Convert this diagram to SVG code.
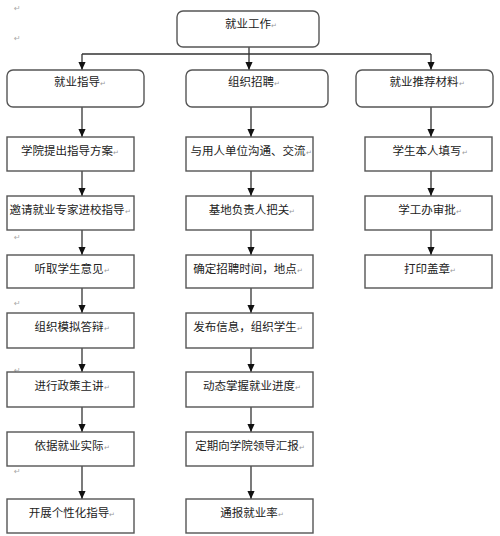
<svg xmlns="http://www.w3.org/2000/svg" width="500" height="536" viewBox="0 0 500 536">
<style>
.box{fill:#fff;stroke:#555;stroke-width:1.4}
.t{font-family:"Noto Sans CJK SC","Noto Sans CJK JP",sans-serif;font-size:11.5px;fill:#222;text-anchor:middle}
.pm{font-size:7px;fill:#999}
.stray{font-family:"DejaVu Sans",sans-serif;font-size:8px;fill:#aaa}
.c{stroke:#333;stroke-width:1.3;fill:none}
</style>
<defs>
<marker id="ah" markerUnits="userSpaceOnUse" markerWidth="8" markerHeight="9" refX="4" refY="9" orient="auto-start-reverse" viewBox="0 0 8 9">
<path d="M0,0 L8,0 L4,9 Z" fill="#111" transform="rotate(0)"/>
</marker>
<marker id="a" markerUnits="userSpaceOnUse" markerWidth="8" markerHeight="9" refX="9" refY="4" orient="auto" viewBox="0 0 9 8">
<path d="M0,0 L9,4 L0,8 Z" fill="#111"/>
</marker>
</defs>
<rect width="500" height="536" fill="#fff"/>
<g id="stray-marks">
<text class="stray" x="14" y="11">↵</text>
<text class="stray" x="14" y="41">↵</text>
<text class="stray" x="14" y="240">↵</text>
<text class="stray" x="14" y="306">↵</text>
<text class="stray" x="14" y="373">↵</text>
<text class="stray" x="14" y="474">↵</text>
</g>
<g id="connectors">
<path class="c" d="M249,47 V54 M82,54 H431"/>
<path class="c" d="M82,54 V70" marker-end="url(#a)"/>
<path class="c" d="M249,54 V70" marker-end="url(#a)"/>
<path class="c" d="M431,54 V70" marker-end="url(#a)"/>
<path class="c" d="M82,107 V137" marker-end="url(#a)"/>
<path class="c" d="M82,171 V196" marker-end="url(#a)"/>
<path class="c" d="M82,230 V255" marker-end="url(#a)"/>
<path class="c" d="M82,288 V313" marker-end="url(#a)"/>
<path class="c" d="M82,348 V372" marker-end="url(#a)"/>
<path class="c" d="M82,407 V432" marker-end="url(#a)"/>
<path class="c" d="M82,466 V499" marker-end="url(#a)"/>
<path class="c" d="M251,107 V137" marker-end="url(#a)"/>
<path class="c" d="M251,171 V196" marker-end="url(#a)"/>
<path class="c" d="M251,230 V255" marker-end="url(#a)"/>
<path class="c" d="M251,288 V313" marker-end="url(#a)"/>
<path class="c" d="M251,348 V372" marker-end="url(#a)"/>
<path class="c" d="M251,407 V432" marker-end="url(#a)"/>
<path class="c" d="M251,466 V499" marker-end="url(#a)"/>
<path class="c" d="M431,107 V137" marker-end="url(#a)"/>
<path class="c" d="M431,171 V196" marker-end="url(#a)"/>
<path class="c" d="M431,230 V255" marker-end="url(#a)"/>
</g>
<g id="n-top"><rect class="box" x="177" y="11" width="142" height="36" rx="6"/><text class="t" x="251" y="28">就业工作<tspan class="pm">↵</tspan></text></g>
<g id="n-a"><rect class="box" x="7" y="70" width="137" height="37" rx="6"/><text class="t" x="80" y="86">就业指导<tspan class="pm">↵</tspan></text></g>
<g id="n-b"><rect class="box" x="186" y="70" width="142" height="37" rx="6"/><text class="t" x="254" y="86">组织招聘<tspan class="pm">↵</tspan></text></g>
<g id="n-c"><rect class="box" x="356" y="70" width="137" height="37" rx="6"/><text class="t" x="427" y="86">就业推荐材料<tspan class="pm">↵</tspan></text></g>

<g id="a1"><rect class="box" x="7" y="137" width="127" height="34"/><text class="t" x="70" y="155">学院提出指导方案<tspan class="pm">↵</tspan></text></g>
<g id="a2"><rect class="box" x="7" y="196" width="127" height="34"/><text class="t" x="70" y="214">邀请就业专家进校指导<tspan class="pm">↵</tspan></text></g>
<g id="a3"><rect class="box" x="7" y="255" width="127" height="33"/><text class="t" x="72" y="273">听取学生意见<tspan class="pm">↵</tspan></text></g>
<g id="a4"><rect class="box" x="7" y="313" width="127" height="35"/><text class="t" x="72" y="331">组织模拟答辩<tspan class="pm">↵</tspan></text></g>
<g id="a5"><rect class="box" x="7" y="372" width="127" height="35"/><text class="t" x="72" y="390">进行政策主讲<tspan class="pm">↵</tspan></text></g>
<g id="a6"><rect class="box" x="7" y="432" width="127" height="34"/><text class="t" x="72" y="450">依据就业实际<tspan class="pm">↵</tspan></text></g>
<g id="a7"><rect class="box" x="7" y="499" width="127" height="34"/><text class="t" x="72" y="517">开展个性化指导<tspan class="pm">↵</tspan></text></g>

<g id="b1"><rect class="box" x="186" y="137" width="127" height="34"/><text class="t" x="251" y="155">与用人单位沟通、交流<tspan class="pm">↵</tspan></text></g>
<g id="b2"><rect class="box" x="186" y="196" width="127" height="34"/><text class="t" x="252" y="214">基地负责人把关<tspan class="pm">↵</tspan></text></g>
<g id="b3"><rect class="box" x="186" y="255" width="127" height="33"/><text class="t" x="248" y="273">确定招聘时间，地点<tspan class="pm">↵</tspan></text></g>
<g id="b4"><rect class="box" x="186" y="313" width="127" height="35"/><text class="t" x="248" y="331">发布信息，组织学生<tspan class="pm">↵</tspan></text></g>
<g id="b5"><rect class="box" x="186" y="372" width="127" height="35"/><text class="t" x="252" y="390">动态掌握就业进度<tspan class="pm">↵</tspan></text></g>
<g id="b6"><rect class="box" x="186" y="432" width="127" height="34"/><text class="t" x="250" y="450">定期向学院领导汇报<tspan class="pm">↵</tspan></text></g>
<g id="b7"><rect class="box" x="186" y="499" width="127" height="34"/><text class="t" x="252" y="517">通报就业率<tspan class="pm">↵</tspan></text></g>

<g id="c1"><rect class="box" x="365" y="137" width="127" height="34"/><text class="t" x="430" y="155">学生本人填写<tspan class="pm">↵</tspan></text></g>
<g id="c2"><rect class="box" x="365" y="196" width="127" height="34"/><text class="t" x="430" y="214">学工办审批<tspan class="pm">↵</tspan></text></g>
<g id="c3"><rect class="box" x="365" y="255" width="127" height="33"/><text class="t" x="430" y="273">打印盖章<tspan class="pm">↵</tspan></text></g>
</svg>
